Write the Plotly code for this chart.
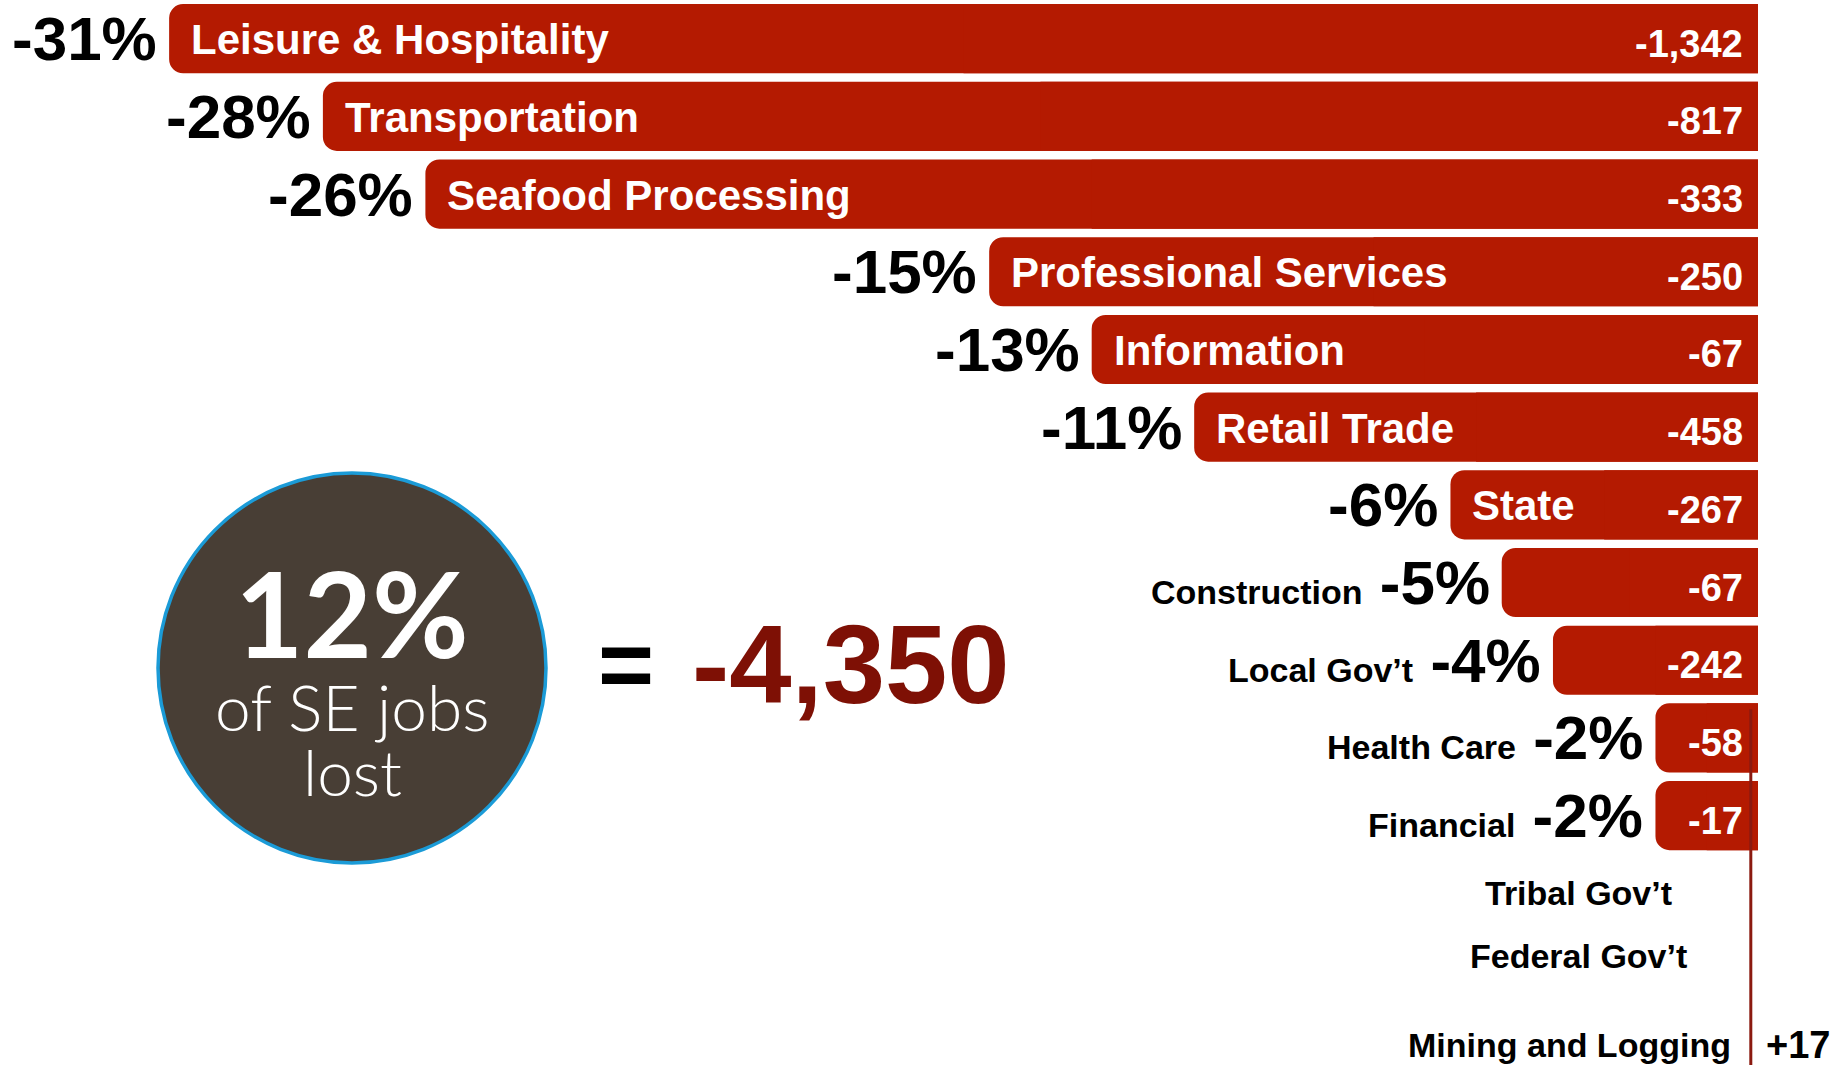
import plotly.graph_objects as go

# Southeast Alaska job losses by industry (percent change and jobs)
categories = [
    "Leisure & Hospitality", "Transportation", "Seafood Processing",
    "Professional Services", "Information", "Retail Trade", "State",
    "Construction", "Local Gov’t", "Health Care", "Financial",
    "Tribal Gov’t", "Federal Gov’t", "Mining and Logging",
]
pct_change = [-31, -28, -26, -15, -13, -11, -6, -5, -4, -2, -2, 0, 0, 0]
jobs_change = [-1342, -817, -333, -250, -67, -458, -267, -67, -242, -58, -17,
               None, None, 17]

total_pct = "12%"
total_jobs = -4350

BAR_RED = "#B41A01"
LINE_RED = "#8B1A10"
DARK_RED = "#7E1005"
FONT = "Liberation Sans, Arial, Helvetica, sans-serif"

W, H = 1841, 1065

# small vertical nudges for labels that sit off the row grid
label_nudge = {"Federal Gov’t": 15, "Mining and Logging": 4}


def px(x):
    return x / W


def py(y):
    return 1 - y / H


fig = go.Figure()

# rounded bars (all corners) + half-length square bars so the right edge stays square
fig.add_trace(go.Bar(
    x=pct_change, y=categories, orientation="h",
    marker=dict(color=BAR_RED, cornerradius=14, line=dict(width=0)),
    width=0.89, hoverinfo="skip",
))
fig.add_trace(go.Bar(
    x=[v / 2 for v in pct_change], y=categories, orientation="h",
    marker=dict(color=BAR_RED, line=dict(width=0)),
    width=0.89, hoverinfo="skip",
))

annotations = []
for cat, pct, jobs in zip(categories, pct_change, jobs_change):
    nudge = label_nudge.get(cat, 0)
    if pct <= -6:
        # name inside the bar, percent to the left
        annotations.append(dict(
            x=pct, y=cat, text=cat, xanchor="left", xshift=20, yshift=-1, showarrow=False,
            font=dict(family=FONT, size=42, color="white", weight="bold"),
        ))
        annotations.append(dict(
            x=pct, y=cat, text=f"{pct}%", xanchor="right", xshift=-10, showarrow=False,
            font=dict(family=FONT, size=62, color="black", weight="bold"),
        ))
    elif pct < 0:
        # small bars: name and percent both sit left of the bar
        annotations.append(dict(
            x=pct, y=cat, xanchor="right", xshift=-10, showarrow=False,
            text=(f"<span style='font-size:34px'>{cat}</span>\u00a0"
                  f"<span style='font-size:62px'>{pct}%</span>"),
            font=dict(family=FONT, size=62, color="black", weight="bold"),
        ))
    elif jobs is None:
        annotations.append(dict(
            x=-3.5, y=cat, text=cat, xanchor="center", yshift=nudge, showarrow=False,
            font=dict(family=FONT, size=34, color="black", weight="bold"),
        ))
    else:
        annotations.append(dict(
            x=0, y=cat, text=cat, xanchor="right", xshift=-25, yshift=nudge,
            showarrow=False,
            font=dict(family=FONT, size=34, color="black", weight="bold"),
        ))

    if jobs is not None:
        if jobs < 0:
            annotations.append(dict(
                x=0, y=cat, text=f"{jobs:,}", xanchor="right", xshift=-13, yshift=-5,
                showarrow=False,
                font=dict(family=FONT, size=38, color="white", weight="bold"),
            ))
        else:
            annotations.append(dict(
                x=0, y=cat, text=f"+{jobs:,}", xanchor="left", xshift=6, yshift=nudge,
                showarrow=False,
                font=dict(family=FONT, size=38, color="black", weight="bold"),
            ))

# summary bubble
annotations += [
    dict(xref="paper", yref="paper", x=px(352), y=py(612), text=total_pct,
         showarrow=False, xanchor="center", yanchor="middle",
         font=dict(family="Lato, Noto Sans, sans-serif", size=118, color="white", weight=700)),
    dict(xref="paper", yref="paper", x=px(352), y=py(706), text="of SE jobs",
         showarrow=False, xanchor="center", yanchor="middle",
         font=dict(family="Lato, Noto Sans, sans-serif", size=64, color="white", weight=300)),
    dict(xref="paper", yref="paper", x=px(352), y=py(771), text="lost",
         showarrow=False, xanchor="center", yanchor="middle",
         font=dict(family="Lato, Noto Sans, sans-serif", size=64, color="white", weight=300)),
    dict(xref="paper", yref="paper", x=px(626), y=py(664), text="=",
         showarrow=False, xanchor="center", yanchor="middle",
         font=dict(family=FONT, size=96, color="black", weight="bold")),
    dict(xref="paper", yref="paper", x=px(690), y=py(664), text=f"{total_jobs:,}",
         showarrow=False, xanchor="left", yanchor="middle",
         font=dict(family=FONT, size=112, color=DARK_RED, weight="bold")),
]

shapes = [
    dict(type="circle", xref="paper", yref="paper",
         x0=px(158), x1=px(546), y0=py(863), y1=py(473),
         fillcolor="#483E35", line=dict(color="#1B9BD7", width=3.5), layer="below"),
    # baseline from Health Care down
    dict(type="line", xref="x", yref="y", x0=-0.14, x1=-0.14, y0=8.63, y1=13.6,
         line=dict(color=LINE_RED, width=3), layer="above"),
]

fig.update_layout(
    width=W, height=H,
    margin=dict(l=0, r=0, t=0, b=0),
    paper_bgcolor="white", plot_bgcolor="white",
    barmode="overlay", showlegend=False,
    xaxis=dict(range=[-34.30, 1.62], visible=False, fixedrange=True),
    yaxis=dict(type="category", categoryorder="array", categoryarray=categories,
               range=[13.21, -0.498], visible=False, fixedrange=True),
    annotations=annotations,
    shapes=shapes,
)

fig.write_html("out.html", config={"displayModeBar": False},
               post_script="document.body.style.margin='0';document.body.style.overflow='hidden';")
